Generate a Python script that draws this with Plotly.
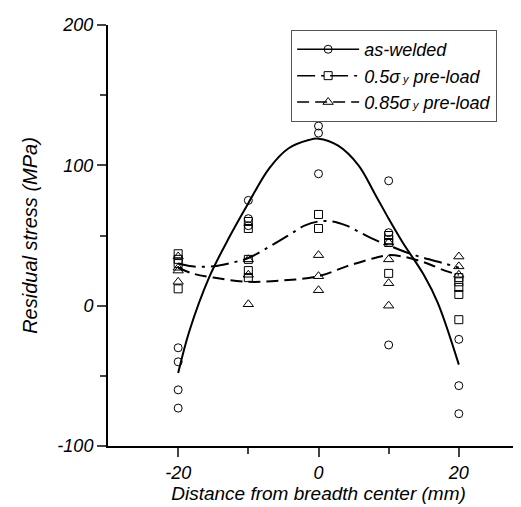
import plotly.graph_objects as go

# ---- data ----
# measured points (x = distance from breadth center, mm; y = residual stress, MPa)
aw_x = [-20, -20, -20, -20, -10, -10, -10, 0, 0, 0, 10, 10, 10, 20, 20, 20]
aw_y = [-30, -40, -60, -73, 75, 62, 57, 128, 123, 94, 89, 52, -28, -24, -57, -77]

p05_x = [-20, -20, -20, -20, -10, -10, -10, -10, -10, 0, 0, 10, 10, 10, 10, 20, 20, 20, 20, 20]
p05_y = [37, 33, 30, 12, 60, 55, 33, 25, 20, 65, 55, 50, 47, 45, 23, 20, 17, 13, 8, -10]

p085_x = [-20, -20, -20, -20, -10, -10, -10, 0, 0, 0, 10, 10, 10, 10, 20, 20, 20]
p085_y = [35, 27, 25, 17, 33, 22, 1, 36, 21, 11, 45, 33, 16, 0, 35, 28, 22]

# fitted curves
aw_cx = [-20, -18.4, -15.6, -12.8, -10, -7, -4.3, -1.4, 0, 2.8, 5.7, 8, 10, 12, 15, 17, 20]
aw_cy = [-48, -18, 20, 48, 73, 98, 112, 118, 119, 114, 100, 80, 62, 45, 22, 2, -42]

p05_cx = [-20, -18, -15, -12, -10, -7, -4, -2, 0, 2, 4, 6, 8, 10, 12, 15, 18, 20]
p05_cy = [30, 28, 28, 31, 34, 42, 51, 57, 60, 60, 57, 52, 47, 43, 39, 34, 30, 27]

p085_cx = [-20, -18, -15, -10, -5, 0, 4, 8, 10, 12, 15, 18, 20]
p085_cy = [27, 23, 20, 17, 18, 21, 28, 34, 36, 35, 31, 25, 22]

names = ["as-welded",
         "0.5σ<span style='font-size:11px'> y</span> pre-load",
         "0.85σ<span style='font-size:11px'> y</span> pre-load"]
x_ticks = [-20, 0, 20]
x_ticktext = ["-20", "0", "20"]
x_minor = [-10, 10]
y_ticks = [-100, 0, 100, 200]
y_ticktext = ["-100", "0", "100", "200"]
y_minor = [-50, 50, 150]

FONT = "Liberation Sans, Arial, sans-serif"
fig = go.Figure()

series = [
    (aw_x, aw_y, aw_cx, aw_cy, "circle-open", "solid", 8),
    (p05_x, p05_y, p05_cx, p05_cy, "square-open", "18px,6px,3px,6px", 8),
    (p085_x, p085_y, p085_cx, p085_cy, "triangle-up-open", "12px,6px", 9),
]

for (mx, my, cx, cy, sym, dash, ms), nm in zip(series, names):
    fig.add_trace(go.Scatter(x=cx, y=cy, mode="lines", line=dict(color="black", width=2, dash=dash, shape="spline"),
                             showlegend=False, hoverinfo="skip"))
    fig.add_trace(go.Scatter(x=mx, y=my, mode="markers",
                             marker=dict(symbol=sym, size=ms, color="black", line=dict(color="black", width=1)),
                             showlegend=False))
    fig.add_trace(go.Scatter(x=[None], y=[None], mode="lines+markers", name=nm,
                             line=dict(color="black", width=1.5, dash=dash),
                             marker=dict(symbol=sym, size=ms, color="black", line=dict(color="black", width=1))))

fig.update_layout(
    width=521, height=507, autosize=False,
    margin=dict(l=100, r=0, t=17, b=69),
    plot_bgcolor="white", paper_bgcolor="white",
    font=dict(family=FONT, color="black", size=16),
    legend=dict(x=0.435, y=0.988, xanchor="left", yanchor="top",
                bordercolor="#555", borderwidth=1, bgcolor="white",
                font=dict(family=FONT, size=18, style="italic"),
                tracegroupgap=0, itemwidth=62),
    xaxis=dict(range=[-30, 30], tickvals=x_ticks, ticktext=x_ticktext, ticks="outside", ticklen=9, tickwidth=2,
               showline=True, linewidth=2, linecolor="black", showgrid=False, zeroline=False,
               tickfont=dict(family=FONT, size=18, style="italic"),
               minor=dict(tickvals=x_minor, ticks="outside", ticklen=6, tickwidth=2, showgrid=False),
               title=dict(text="Distance from breadth center (mm)", font=dict(family=FONT, size=19, style="italic"),
                          standoff=4)),
    yaxis=dict(range=[-100, 200], tickvals=y_ticks, ticktext=y_ticktext, ticks="outside", ticklen=9, tickwidth=2,
               showline=True, linewidth=2, linecolor="black", showgrid=False, zeroline=False,
               tickfont=dict(family=FONT, size=18, style="italic"),
               minor=dict(tickvals=y_minor, ticks="outside", ticklen=6, tickwidth=2, showgrid=False),
               title=dict(text="Residual stress (MPa)", font=dict(family=FONT, size=20, style="italic"),
                          standoff=14)),
)

fig.write_html("out.html")
